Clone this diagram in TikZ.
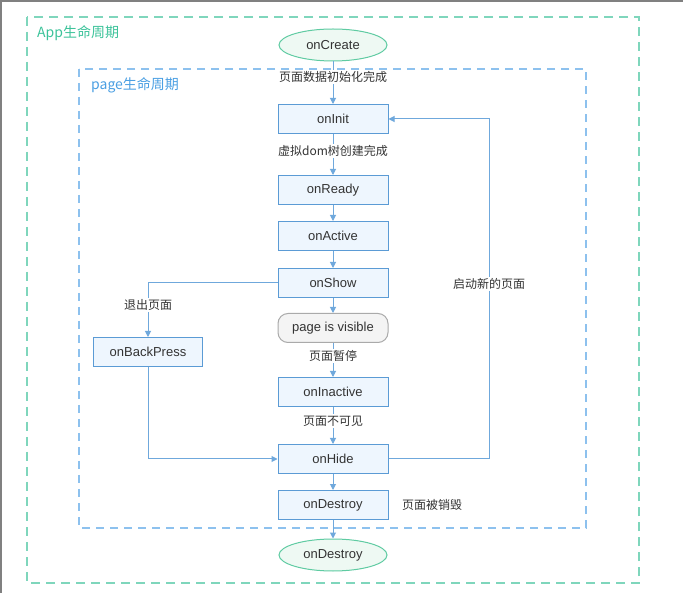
\documentclass[tikz,border=0pt]{standalone}
\usepackage{fontspec}
\setmainfont{Liberation Sans}
\newfontfamily\cjk{Noto Sans CJK SC}
\usetikzlibrary{arrows.meta,shapes.geometric}
\definecolor{boxblue}{HTML}{5B9BD5}
\definecolor{boxfill}{HTML}{EEF6FE}
\definecolor{linkblue}{HTML}{6FA8DC}
\definecolor{appgreen}{HTML}{7FD6BC}
\definecolor{apptext}{HTML}{3CC39A}
\definecolor{pageblue}{HTML}{8DC1EE}
\definecolor{pagetext}{HTML}{4A9FE3}
\definecolor{ovalgreen}{HTML}{5FCBA2}
\definecolor{ovalfill}{HTML}{EEF9F3}
\definecolor{visfill}{HTML}{F4F4F4}
\definecolor{visdraw}{HTML}{AAAAAA}
\definecolor{txt}{HTML}{333333}
\begin{document}
\begin{tikzpicture}[x=1pt,y=-1pt,
  box/.style={draw=boxblue, fill=boxfill, line width=1pt, minimum width=110pt, minimum height=29pt, inner sep=0pt, text=txt, font=\fontsize{13}{15}\selectfont},
  oval/.style={ellipse, draw=ovalgreen, fill=ovalfill, line width=1pt, minimum width=108pt, minimum height=32pt, inner sep=0pt, text=txt, font=\fontsize{13}{15}\selectfont},
  vis/.style={draw=visdraw, fill=visfill, line width=1pt, rounded corners=10pt, minimum width=110pt, minimum height=29pt, inner sep=0pt, text=txt, font=\fontsize{13}{15}\selectfont},
  conn/.style={draw=linkblue, line width=1pt, -{Triangle[length=6pt,width=6pt]}},
  lbl/.style={fill=white, inner sep=1.5pt, text=txt, font=\cjk\fontsize{12}{14}\selectfont},
  title/.style={anchor=west, inner sep=0pt, font=\cjk\fontsize{14}{16}\selectfont}]
\useasboundingbox (0,0) rectangle (683,593);
\fill[white] (0,0) rectangle (683,593);
\draw[gray, line width=2pt] (1,593) -- (1,1) -- (683,1);
% containers
\draw[appgreen, line width=1.6pt, dash pattern=on 9pt off 6pt] (27,17) rectangle (639,583);
\draw[pageblue, line width=1.3pt, dash pattern=on 8pt off 6pt] (79,69) rectangle (586,528);
\node[title, text=apptext] (apptitle) at (37,33) {App生命周期};
\node[title, text=pagetext] (pagetitle) at (91,85) {page生命周期};
% nodes
\node[oval] (create) at (333,45) {onCreate};
\node[box] (init) at (333,119) {onInit};
\node[box] (ready) at (333,190) {onReady};
\node[box] (active) at (333,236) {onActive};
\node[box] (show) at (333,283) {onShow};
\node[vis] (visible) at (333,328) {page is visible};
\node[box] (inactive) at (333,392) {onInactive};
\node[box] (hide) at (333,459) {onHide};
\node[box] (pdestroy) at (333,505) {onDestroy};
\node[oval] (adestroy) at (333,555) {onDestroy};
\node[box, minimum width=109pt] (back) at (148,352) {onBackPress};
% connectors
\draw[conn] (create) -- (init);
\draw[conn] (init) -- (ready);
\draw[conn] (ready) -- (active);
\draw[conn] (active) -- (show);
\draw[conn] (show) -- (visible);
\draw[conn] (visible) -- (inactive);
\draw[conn] (inactive) -- (hide);
\draw[conn] (hide) -- (pdestroy);
\draw[conn] (pdestroy) -- (adestroy);
\coordinate (rloop) at (489,459);
\draw[conn] (hide.east) -- (rloop) |- (init.east);
\draw[conn] (show.west) -| (back.north);
\draw[conn] (back.south) |- (hide.west);
% labels
\node[lbl] (l1) at (333,77) {页面数据初始化完成};
\node[lbl] (l2) at (333,151) {虚拟dom树创建完成};
\node[lbl] (l3) at (333,356) {页面暂停};
\node[lbl] (l4) at (333,421) {页面不可见};
\node[lbl] (l5) at (432,505) {页面被销毁};
\node[lbl] (l6) at (489,284) {启动新的页面};
\node[lbl] (l7) at (148,305) {退出页面};
\end{tikzpicture}
\end{document}
